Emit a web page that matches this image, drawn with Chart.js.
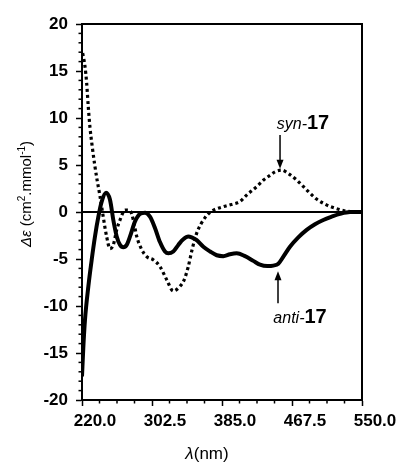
<!DOCTYPE html>
<html>
<head>
<meta charset="utf-8">
<script src="https://cdn.jsdelivr.net/npm/chart.js@4/dist/chart.umd.min.js"></script>
<style>
  html, body { margin: 0; padding: 0; background: #fff; }
  canvas { display: block; }
</style>
</head>
<body>
<canvas id="cd" width="399" height="462"></canvas>
<script>
// Circular dichroism spectra of anti-17 and syn-17: Δε (cm².mmol⁻¹) against λ (nm)

const antiWavelength = [220.0, 221.5, 223.5, 227.5, 231.4, 235.3, 239.3, 243.2, 248.3, 253.0, 256.9, 260.9,
  264.8, 268.7, 272.7, 276.6, 282.5, 288.4, 294.3, 300.1, 306.0, 311.9, 317.8, 321.7, 327.6, 333.5,
  339.4, 345.3, 349.3, 355.2, 363.0, 370.9, 378.8, 386.5, 394.4, 402.3, 412.1, 421.9, 429.8, 438.4,
  445.5, 451.4, 457.3, 465.1, 474.9, 484.8, 494.6, 504.4, 514.3, 524.1, 535.9, 550.0];
const antiDeltaEps = [-17.5, -14.5, -11.5, -7.9, -5.1, -2.6, -0.5, 1.1, 2.05, 1.3, -0.85, -2.6,
  -3.5, -3.75, -3.5, -2.6, -1.0, -0.2, -0.07, -0.5, -1.7, -3.2, -4.2, -4.4, -4.2, -3.5,
  -2.9, -2.6, -2.7, -3.0, -3.7, -4.2, -4.6, -4.7, -4.5, -4.4, -4.7, -5.2, -5.6, -5.75,
  -5.7, -5.5, -4.75, -3.7, -2.7, -1.9, -1.3, -0.85, -0.5, -0.2, 0.0, 0.0];

const synWavelength = [220.8, 223.5, 225.5, 227.4, 229.4, 232.0, 235.0, 238.0, 241.0, 245.0, 249.0, 253.0,
  256.9, 260.9, 264.8, 270.7, 276.6, 280.5, 284.5, 290.4, 296.3, 304.2, 311.9, 319.8, 327.6, 335.5,
  340.0, 345.0, 350.0, 355.0, 360.0, 365.0, 370.0, 375.0, 386.5, 396.0, 406.0, 414.0, 425.9, 434.0,
  441.6, 448.0, 455.4, 463.0, 473.0, 481.0, 488.7, 496.0, 504.4, 512.0, 520.0, 528.0, 536.0, 550.0];
const synDeltaEps = [16.9, 15.5, 13.7, 11.2, 9.0, 7.0, 5.0, 3.3, 1.8, -0.5, -2.6, -3.9,
  -3.5, -1.9, -0.85, 0.2, 0.15, -0.85, -2.6, -4.0, -4.75, -5.1, -5.8, -7.2, -8.4, -7.9,
  -7.3, -5.9, -3.9, -2.3, -1.3, -0.6, -0.1, 0.2, 0.56, 0.8, 1.1, 1.8, 2.7, 3.4,
  3.9, 4.3, 4.45, 4.1, 3.4, 2.7, 2.0, 1.4, 0.93, 0.6, 0.35, 0.15, 0.05, 0.0];

const xTickLabels = ['220.0', '302.5', '385.0', '467.5', '550.0'];
const yTickLabels = ['-20', '-15', '-10', '-5', '0', '5', '10', '15', '20'];

const FONT = "'Liberation Sans', Arial, Helvetica, sans-serif";

// Curve labels with their arrows, in data units (λ, Δε)
const curveLabels = [
  { prefix: 'syn-', number: '17', x: 449.5, y: 8.78, arrowX: 453.4, arrowFrom: 8.2, arrowTo: 4.6 },
  { prefix: 'anti-', number: '17', x: 445.5, y: -11.84, arrowX: 451.0, arrowFrom: -9.7, arrowTo: -6.3 }
];

function pairs(xs, ys) { return xs.map((x, i) => ({ x: x, y: ys[i] })); }

// Frame, zero line, minor ticks, axis titles and curve labels
const decorations = {
  id: 'decorations',
  beforeDatasetsDraw(chart) {
    const { ctx, chartArea: a, scales: { y } } = chart;
    ctx.save();
    ctx.strokeStyle = '#000';
    ctx.lineWidth = 2;
    const y0 = y.getPixelForValue(0);
    ctx.beginPath(); ctx.moveTo(a.left, y0); ctx.lineTo(a.right, y0); ctx.stroke();
    ctx.restore();
  },
  afterDraw(chart) {
    const { ctx, chartArea: a, scales: { x, y } } = chart;
    ctx.save();
    ctx.strokeStyle = '#000';
    ctx.lineWidth = 2;
    ctx.beginPath();
    ctx.moveTo(a.left, a.top); ctx.lineTo(a.right, a.top); ctx.lineTo(a.right, a.bottom);
    ctx.stroke();

    // minor ticks
    ctx.lineWidth = 1.5;
    for (let v = -20; v <= 20; v++) {
      if (v % 5 === 0) continue;
      const py = y.getPixelForValue(v);
      ctx.beginPath(); ctx.moveTo(a.left - 3.5, py); ctx.lineTo(a.left, py); ctx.stroke();
    }
    for (let i = 0; i <= 16; i++) {
      if (i % 4 === 0) continue;
      const px = x.getPixelForValue(220 + i * 20.625);
      ctx.beginPath(); ctx.moveTo(px, a.bottom); ctx.lineTo(px, a.bottom + 3.5); ctx.stroke();
    }

    ctx.fillStyle = '#000';
    ctx.textBaseline = 'alphabetic';

    // y-axis title, rotated
    const parts = [
      { t: 'Δε', f: 'italic 15px ' + FONT, dy: 0 },
      { t: ' (cm', f: '15px ' + FONT, dy: 0 },
      { t: '2', f: '10px ' + FONT, dy: -6 },
      { t: '.mmol', f: '15px ' + FONT, dy: 0 },
      { t: '-1', f: '10px ' + FONT, dy: -6 },
      { t: ')', f: '15px ' + FONT, dy: 0 }
    ];
    let total = 0;
    parts.forEach(p => { ctx.font = p.f; p.w = ctx.measureText(p.t).width; total += p.w; });
    ctx.save();
    ctx.translate(30.5, 194);
    ctx.rotate(-Math.PI / 2);
    let cx = -total / 2;
    parts.forEach(p => { ctx.font = p.f; ctx.fillText(p.t, cx, p.dy); cx += p.w; });
    ctx.restore();

    // x-axis title
    const xparts = [
      { t: 'λ', f: 'italic 17px ' + FONT },
      { t: '(nm)', f: '17px ' + FONT }
    ];
    total = 0;
    xparts.forEach(p => { ctx.font = p.f; p.w = ctx.measureText(p.t).width; total += p.w; });
    cx = 207 - total / 2;
    xparts.forEach(p => { ctx.font = p.f; ctx.fillText(p.t, cx, 459); cx += p.w; });

    // curve labels and arrows
    curveLabels.forEach(l => {
      let lx = x.getPixelForValue(l.x);
      const ly = y.getPixelForValue(l.y);
      ctx.font = 'italic 16px ' + FONT;
      ctx.fillText(l.prefix, lx, ly);
      lx += ctx.measureText(l.prefix).width;
      ctx.font = 'bold 20px ' + FONT;
      ctx.fillText(l.number, lx, ly);

      const ax = x.getPixelForValue(l.arrowX);
      const y1 = y.getPixelForValue(l.arrowFrom);
      const y2 = y.getPixelForValue(l.arrowTo);
      const dir = y2 > y1 ? 1 : -1;
      ctx.lineWidth = 1.5;
      ctx.beginPath(); ctx.moveTo(ax, y1); ctx.lineTo(ax, y2 - dir * 8); ctx.stroke();
      ctx.beginPath();
      ctx.moveTo(ax, y2);
      ctx.lineTo(ax - 3.5, y2 - dir * 9);
      ctx.lineTo(ax + 3.5, y2 - dir * 9);
      ctx.closePath();
      ctx.fill();
    });
    ctx.restore();
  }
};

new Chart(document.getElementById('cd'), {
  type: 'line',
  data: {
    datasets: [
      {
        label: 'anti-17',
        data: pairs(antiWavelength, antiDeltaEps),
        borderColor: '#000',
        borderWidth: 4,
        pointRadius: 0,
        cubicInterpolationMode: 'monotone',
        fill: false
      },
      {
        label: 'syn-17',
        data: pairs(synWavelength, synDeltaEps),
        borderColor: '#000',
        borderWidth: 3.2,
        borderDash: [3, 3],
        borderCapStyle: 'butt',
        pointRadius: 0,
        cubicInterpolationMode: 'monotone',
        fill: false
      }
    ]
  },
  options: {
    responsive: false,
    animation: false,
    events: [],
    layout: { padding: { top: 24, right: 37, left: 0, bottom: 0 } },
    plugins: { legend: { display: false }, tooltip: { enabled: false } },
    scales: {
      x: {
        type: 'linear',
        min: 220, max: 550,
        afterFit(scale) { scale.height = 62; },
        afterBuildTicks(scale) {
          scale.ticks = xTickLabels.map(s => ({ value: parseFloat(s) }));
        },
        border: { display: true, color: '#000', width: 2 },
        grid: { drawOnChartArea: false, drawTicks: true, tickLength: 6, tickWidth: 1.5, tickColor: '#000' },
        ticks: {
          color: '#000',
          font: { family: FONT, size: 17, weight: 'bold' },
          padding: 5,
          labelOffset: 13,
          maxRotation: 0,
          autoSkip: false,
          callback: (v) => xTickLabels.find(s => parseFloat(s) === v) || ''
        }
      },
      y: {
        type: 'linear',
        min: -20, max: 20,
        afterFit(scale) { scale.width = 82; },
        afterBuildTicks(scale) {
          scale.ticks = yTickLabels.map(s => ({ value: parseFloat(s) }));
        },
        border: { display: true, color: '#000', width: 2 },
        grid: { drawOnChartArea: false, drawTicks: true, tickLength: 6, tickWidth: 1.5, tickColor: '#000' },
        ticks: {
          color: '#000',
          font: { family: FONT, size: 17, weight: 'bold' },
          padding: 8,
          autoSkip: false,
          callback: (v) => yTickLabels.find(s => parseFloat(s) === v) || ''
        }
      }
    }
  },
  plugins: [decorations]
});
</script>
</body>
</html>
